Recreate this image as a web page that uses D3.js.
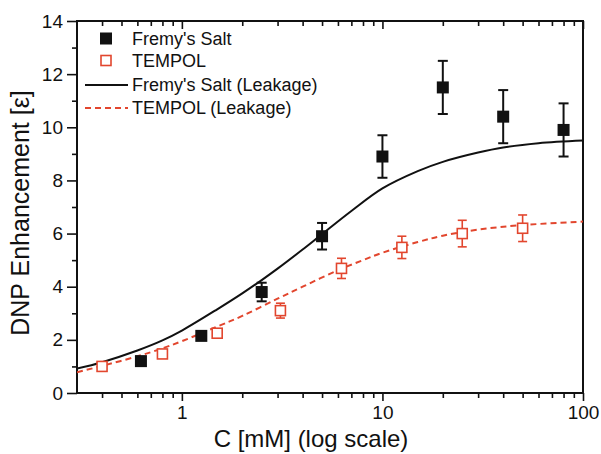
<!DOCTYPE html>
<html>
<head>
<meta charset="utf-8">
<script src="https://cdn.jsdelivr.net/npm/d3@7"></script>
<style>
  html, body { margin: 0; padding: 0; background: #fff; }
  svg { display: block; font-family: "Liberation Sans", Arial, Helvetica, sans-serif; }
</style>
</head>
<body>
<svg id="chart" width="601" height="454"></svg>
<script>
// ---------- data ----------
const fremyC   = [0.625, 1.25, 2.5, 5, 10, 20, 40, 80];
const fremyE   = [1.2, 2.15, 3.8, 5.9, 8.9, 11.5, 10.4, 9.9];
const fremyErr = [0.1, 0.1, 0.35, 0.5, 0.8, 1.0, 1.0, 1.0];

const tempolC   = [0.4, 0.8, 1.5, 3.1, 6.25, 12.5, 25, 50];
const tempolE   = [1.0, 1.47, 2.25, 3.1, 4.69, 5.48, 6.0, 6.2];
const tempolErr = [0.1, 0.1, 0.1, 0.28, 0.38, 0.42, 0.5, 0.5];

const fremyFitC = [0.3, 0.4, 0.6, 0.8, 1, 1.5, 2, 2.5, 3, 4, 5, 7, 10, 15, 20, 30, 40, 60, 100];
const fremyFitE = [0.92, 1.16, 1.6, 1.98, 2.35, 3.15, 3.75, 4.25, 4.68, 5.4, 5.98, 6.85, 7.7, 8.35, 8.7, 9.05, 9.24, 9.4, 9.5];

const tempolFitC = [0.3, 0.4, 0.6, 0.8, 1, 1.5, 2, 3, 4, 6, 8, 10, 15, 20, 30, 50, 100];
const tempolFitE = [0.78, 1.02, 1.38, 1.68, 1.95, 2.5, 2.9, 3.55, 4.0, 4.62, 5.0, 5.28, 5.68, 5.92, 6.15, 6.32, 6.45];

const xMajorTicks = [1, 10, 100];
const xMinorTicks = [0.4, 0.5, 0.6, 0.7, 0.8, 0.9, 2, 3, 4, 5, 6, 7, 8, 9, 20, 30, 40, 50, 60, 70, 80, 90];
const yMajorTicks = [0, 2, 4, 6, 8, 10, 12, 14];
const yMinorTicks = [1, 3, 5, 7, 9, 11, 13];

const legendLabels = ["Fremy's Salt", "TEMPOL", "Fremy's Salt (Leakage)", "TEMPOL (Leakage)"];

// ---------- layout ----------
const RED = "#e2462e";
const plot = { left: 77, right: 583, top: 21, bottom: 393 };
const svg = d3.select("#chart");

const x = d3.scaleLog().domain([0.3, 100]).range([plot.left, plot.right]);
const y = d3.scaleLinear().domain([0, 14]).range([plot.bottom, plot.top]);

svg.append("defs").append("clipPath").attr("id", "plotclip")
  .append("rect")
  .attr("x", plot.left).attr("y", plot.top)
  .attr("width", plot.right - plot.left).attr("height", plot.bottom - plot.top);

// ---------- axes ----------
function styleAxis(g) {
  g.select(".domain").remove();
  g.selectAll(".tick line").attr("stroke", "#111").attr("stroke-width", 1.6);
  g.selectAll(".tick text").attr("fill", "#111").style("font-size", "19px");
}

// bottom
svg.append("g").attr("transform", `translate(0,${plot.bottom})`)
  .call(d3.axisBottom(x).tickValues(xMajorTicks).tickSize(8).tickPadding(5).tickFormat(d3.format("d")))
  .call(styleAxis);
svg.append("g").attr("transform", `translate(0,${plot.bottom})`)
  .call(d3.axisBottom(x).tickValues(xMinorTicks).tickSize(5).tickFormat(""))
  .call(styleAxis);
// top (inward ticks)
svg.append("g").attr("transform", `translate(0,${plot.top})`)
  .call(d3.axisBottom(x).tickValues(xMajorTicks).tickSize(8).tickFormat(""))
  .call(styleAxis);
svg.append("g").attr("transform", `translate(0,${plot.top})`)
  .call(d3.axisBottom(x).tickValues(xMinorTicks).tickSize(5).tickFormat(""))
  .call(styleAxis);
// left
svg.append("g").attr("transform", `translate(${plot.left},0)`)
  .call(d3.axisLeft(y).tickValues(yMajorTicks).tickSize(10).tickPadding(4).tickFormat(d3.format("d")))
  .call(styleAxis);
svg.append("g").attr("transform", `translate(${plot.left},0)`)
  .call(d3.axisLeft(y).tickValues(yMinorTicks).tickSize(5).tickFormat(""))
  .call(styleAxis);

// frame
svg.append("rect")
  .attr("x", plot.left).attr("y", plot.top)
  .attr("width", plot.right - plot.left).attr("height", plot.bottom - plot.top)
  .attr("fill", "none").attr("stroke", "#111").attr("stroke-width", 2);

// axis titles
svg.append("text")
  .attr("x", 311).attr("y", 447)
  .attr("text-anchor", "middle")
  .style("font-size", "24px").attr("fill", "#111")
  .text("C [mM] (log scale)");
svg.append("text")
  .attr("transform", `translate(29,${213}) rotate(-90)`)
  .attr("text-anchor", "middle")
  .style("font-size", "25px").attr("fill", "#111")
  .text("DNP Enhancement [ε]");

// ---------- curves ----------
const plotG = svg.append("g").attr("clip-path", "url(#plotclip)");
const line = d3.line().x(d => x(d[0])).y(d => y(d[1])).curve(d3.curveCatmullRom.alpha(0.5));

plotG.append("path")
  .datum(fremyFitC.map((c, i) => [c, fremyFitE[i]]))
  .attr("d", line).attr("fill", "none")
  .attr("stroke", "#111").attr("stroke-width", 2);

plotG.append("path")
  .datum(tempolFitC.map((c, i) => [c, tempolFitE[i]]))
  .attr("d", line).attr("fill", "none")
  .attr("stroke", RED).attr("stroke-width", 2).attr("stroke-dasharray", "6,4");

// ---------- error bars + markers ----------
function drawSeries(cs, es, errs, color, cap, sw, drawMarker) {
  const g = svg.append("g");
  cs.forEach((c, i) => {
    const cx = x(c), y1 = y(es[i] + errs[i]), y0 = y(es[i] - errs[i]);
    g.append("line").attr("x1", cx).attr("x2", cx).attr("y1", y1).attr("y2", y0)
      .attr("stroke", color).attr("stroke-width", sw);
    [y1, y0].forEach(yy => g.append("line")
      .attr("x1", cx - cap / 2).attr("x2", cx + cap / 2).attr("y1", yy).attr("y2", yy)
      .attr("stroke", color).attr("stroke-width", sw));
  });
  cs.forEach((c, i) => drawMarker(g, x(c), y(es[i])));
}

drawSeries(fremyC, fremyE, fremyErr, "#111", 10, 2, (g, cx, cy) =>
  g.append("rect").attr("x", cx - 6).attr("y", cy - 6).attr("width", 12).attr("height", 12).attr("fill", "#111"));

drawSeries(tempolC, tempolE, tempolErr, RED, 9, 1.6, (g, cx, cy) =>
  g.append("rect").attr("x", cx - 5).attr("y", cy - 5).attr("width", 10).attr("height", 10)
    .attr("fill", "#fff").attr("stroke", RED).attr("stroke-width", 1.6));

// ---------- legend ----------
const leg = svg.append("g").style("font-size", "18px").attr("fill", "#111");
const rowBase = [44.5, 67, 90.5, 113.5];
leg.append("rect").attr("x", 100).attr("y", rowBase[0] - 12).attr("width", 12).attr("height", 12).attr("fill", "#111");
leg.append("rect").attr("x", 101).attr("y", rowBase[1] - 11.5).attr("width", 10).attr("height", 10)
  .attr("fill", "#fff").attr("stroke", RED).attr("stroke-width", 1.6);
leg.append("line").attr("x1", 85).attr("x2", 128).attr("y1", rowBase[2] - 5.5).attr("y2", rowBase[2] - 5.5)
  .attr("stroke", "#111").attr("stroke-width", 2);
leg.append("line").attr("x1", 85).attr("x2", 128).attr("y1", rowBase[3] - 5.5).attr("y2", rowBase[3] - 5.5)
  .attr("stroke", RED).attr("stroke-width", 2).attr("stroke-dasharray", "6,4");
legendLabels.forEach((t, i) => leg.append("text").attr("x", 132).attr("y", rowBase[i]).text(t));
</script>
</body>
</html>
